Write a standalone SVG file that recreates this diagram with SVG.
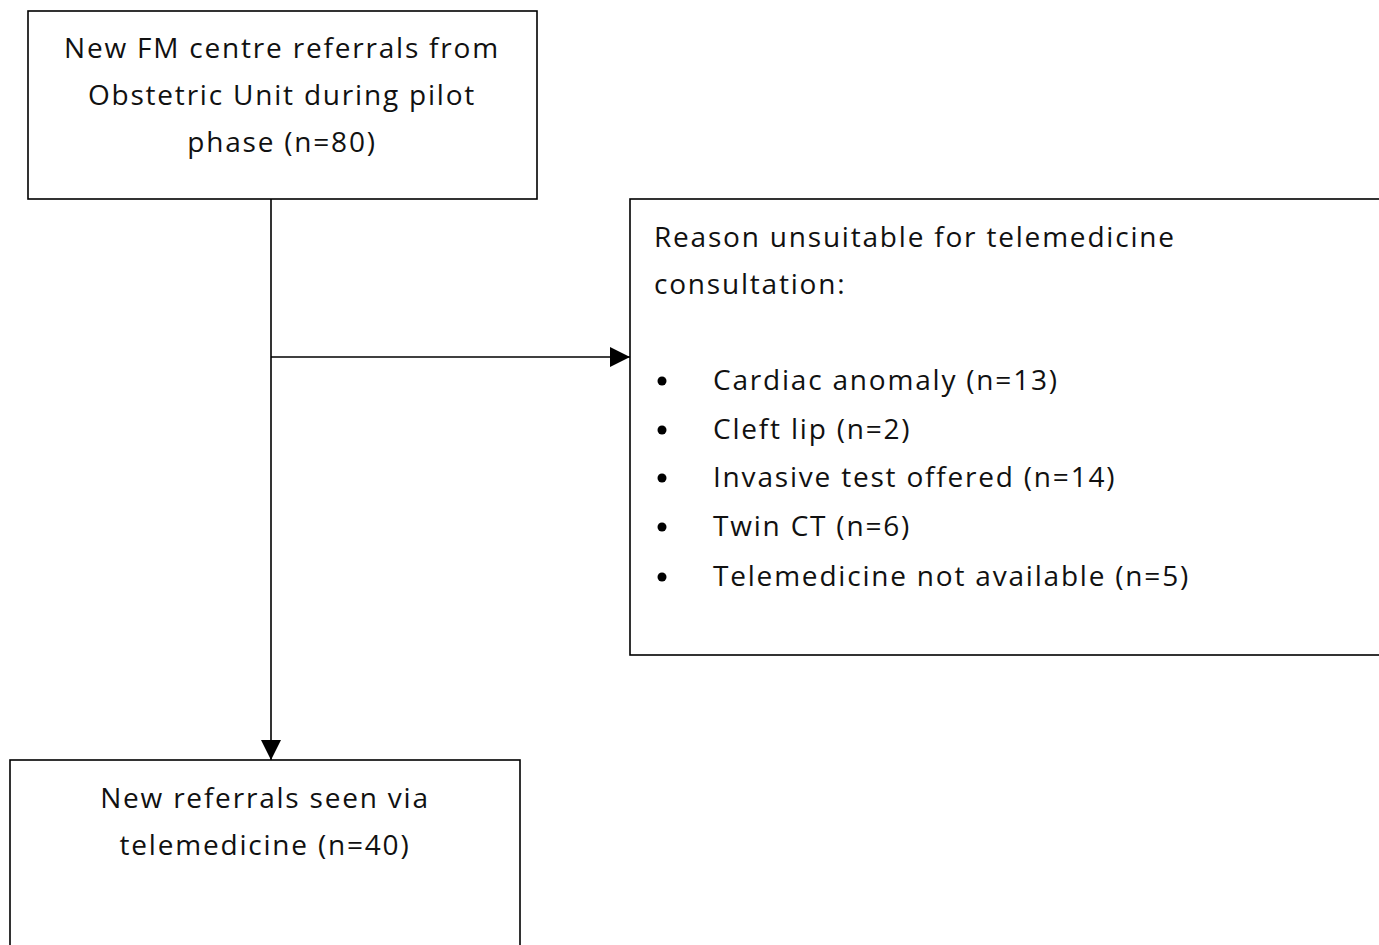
<svg xmlns="http://www.w3.org/2000/svg" width="1379" height="945" viewBox="0 0 1379 945">
<style>
.box{fill:#fff;stroke:#000;stroke-width:1.6}
.t{font-family:"Open Sans","Noto Sans",sans-serif;font-size:28px;letter-spacing:1.8px;fill:#111}
.c{text-anchor:middle}
.ln{stroke:#000;stroke-width:1.6;fill:none}
</style>
<defs>
<marker id="ah" viewBox="0 0 10 10" refX="10" refY="5" markerWidth="20" markerHeight="20" markerUnits="userSpaceOnUse" orient="auto">
<path d="M0,0 L10,5 L0,10 z" fill="#000"/>
</marker>
</defs>
<rect width="1379" height="945" fill="#fff"/>
<g id="connectors">
<line class="ln" x1="271" y1="199" x2="271" y2="760" marker-end="url(#ah)"/>
<line class="ln" x1="271" y1="357" x2="630" y2="357" marker-end="url(#ah)"/>
</g>
<g id="node-referrals">
<rect class="box" x="28" y="11" width="509" height="188"/>
<text class="t c" x="282" y="58">New FM centre referrals from</text>
<text class="t c" x="282" y="105">Obstetric Unit during pilot</text>
<text class="t c" x="282" y="152">phase (n=80)</text>
</g>
<g id="node-unsuitable">
<rect class="box" x="630" y="199" width="760" height="456"/>
<text class="t" x="654" y="247">Reason unsuitable for telemedicine</text>
<text class="t" x="654" y="294">consultation:</text>
<g fill="#000">
<circle cx="662" cy="381" r="4.5"/>
<circle cx="662" cy="430" r="4.5"/>
<circle cx="662" cy="478" r="4.5"/>
<circle cx="662" cy="527" r="4.5"/>
<circle cx="662" cy="577" r="4.5"/>
</g>
<text class="t" x="713" y="390">Cardiac anomaly (n=13)</text>
<text class="t" x="713" y="439">Cleft lip (n=2)</text>
<text class="t" x="713" y="487">Invasive test offered (n=14)</text>
<text class="t" x="713" y="536">Twin CT (n=6)</text>
<text class="t" x="713" y="586">Telemedicine not available (n=5)</text>
</g>
<g id="node-telemedicine">
<rect class="box" x="10" y="760" width="510" height="200"/>
<text class="t c" x="265" y="808">New referrals seen via</text>
<text class="t c" x="265" y="855">telemedicine (n=40)</text>
</g>
</svg>
